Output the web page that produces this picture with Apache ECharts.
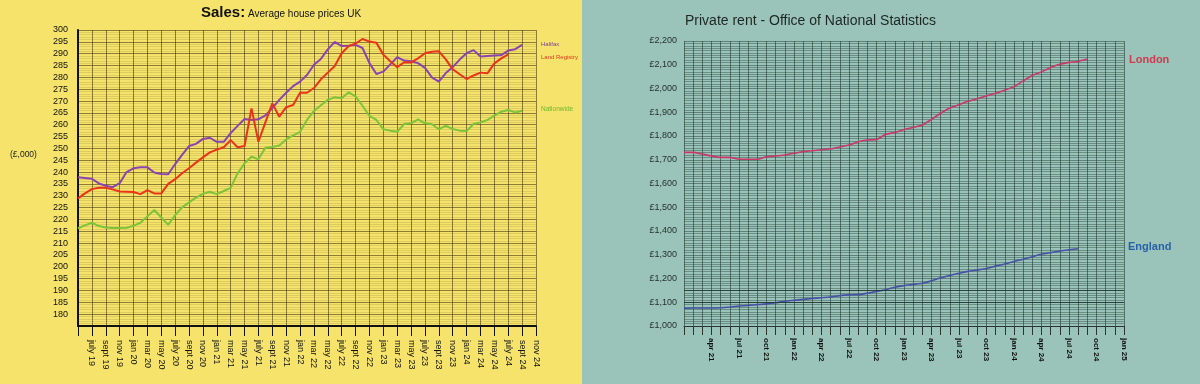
<!DOCTYPE html>
<html>
<head>
<meta charset="utf-8">
<script src="https://cdn.jsdelivr.net/npm/echarts@6/dist/echarts.min.js"></script>
<style>
html,body{margin:0;padding:0;background:#9AC4B9;}
#c{width:1200px;height:384px;}
</style>
</head>
<body>
<div id="c"></div>
<script>
// ---------- Sales (left panel) ----------
var salesMonths = ['may 19','jun 19','july 19','aug 19','sept 19','oct 19','nov 19','dec 19',
  'jan 20','feb 20','mar 20','apr 20','may 20','jun 20','july 20','aug 20','sept 20','oct 20','nov 20','dec 20',
  'jan 21','feb 21','mar 21','apr 21','may 21','jun 21','july 21','aug 21','sept 21','oct 21','nov 21','dec 21',
  'jan 22','feb 22','mar 22','apr 22','may 22','jun 22','july 22','aug 22','sept 22','oct 22','nov 22','dec 22',
  'jan 23','feb 23','mar 23','apr 23','may 23','jun 23','july 23','aug 23','sept 23','oct 23','nov 23','dec 23',
  'jan 24','feb 24','mar 24','apr 24','may 24','jun 24','july 24','aug 24','sept 24','oct 24','nov 24'];

var halifax = [237.8,237.5,237.2,235.2,234.2,233.6,235.3,240,241.6,242,
  242,239.8,239.2,239.1,243.4,247.3,251,251.9,254,254.5,
  252.8,252.8,256.5,259.5,262.4,262,262.3,263.9,267,270.5,
  273.5,276.3,278.2,281,285.3,287.8,291.8,295,293.2,293.4,
  293.7,292.4,286,281.4,282.4,285.5,288.5,287.1,286.8,286,
  284,280,278.2,281.8,284.3,287.5,290.2,291.5,288.8,289,
  289.2,289.4,291.3,291.9,293.7];

var landRegistry = [228.9,231,232.8,233.4,233.4,232.7,231.8,231.7,231.6,230.7,
  232.4,231,231,235,237,239.5,241.6,244,246.2,248.3,
  249.5,250.5,253.5,250.5,251,266.9,252.8,261,269,263.4,
  267.4,268.3,273.5,273.5,275.5,279.2,282,284.8,290.2,293.2,
  294.3,296.2,295.1,294.6,289.6,286.8,284.3,286.4,286.3,288,
  290.2,290.8,291,287.6,283.4,281.3,279.3,280.8,282,281.7,
  285.9,288,289.7];

var nationwide = [216.3,217.5,218.6,217.2,216.6,216.4,216.4,216.5,217.3,218.6,
  221.3,224,220.8,217.7,221.8,225.1,227.2,229.2,230.8,231.7,
  230.7,232,233.3,239.5,243.7,246.5,245.4,250.3,250.6,251.2,
  253.8,255.5,257,262,265.8,268.2,270.5,271.6,271.2,273.7,
  272,268,263.7,262,258.1,257.5,257,260.3,260.6,262.3,
  260.6,260.2,258.1,259.5,258.2,257.5,257.3,260.3,261,262,
  263.8,265.5,266.2,265.2,265.9];

// ---------- Private rent (right panel) ----------
var rentMonths = ['jan 21','feb 21','mar 21','apr 21','may 21','jun 21','jul 21','aug 21','sep 21','oct 21','nov 21','dec 21',
  'jan 22','feb 22','mar 22','apr 22','may 22','jun 22','jul 22','aug 22','sep 22','oct 22','nov 22','dec 22',
  'jan 23','feb 23','mar 23','apr 23','may 23','jun 23','jul 23','aug 23','sep 23','oct 23','nov 23','dec 23',
  'jan 24','feb 24','mar 24','apr 24','may 24','jun 24','jul 24','aug 24','sep 24','oct 24','nov 24','dec 24',
  'jan 25'];

var london = [1731,1731,1724,1716,1710,1710,1702,1702,1702,1713,
  1716,1720,1727,1735,1738,1742,1746,1754,1762,1776,
  1783,1785,1807,1815,1827,1836,1846,1870,1896,1918,
  1932,1946,1957,1969,1980,1993,2008,2032,2055,2070,
  2088,2102,2110,2114,2124];

var england = [1075,1076,1076,1076,1077,1080,1084,1087,1090,1093,
  1098,1104,1108,1112,1116,1119,1122,1128,1131,1132,
  1138,1145,1153,1163,1170,1175,1180,1190,1203,1213,
  1222,1230,1236,1242,1252,1261,1272,1281,1292,1302,
  1309,1316,1321,1325];

var rentRefLines = [1100, 1150];

var FONT = 'Arial, "Liberation Sans", sans-serif';

var chart = echarts.init(document.getElementById('c'), null, {renderer:'canvas'});

var option = {
  animation: false,
  backgroundColor: '#9AC4B9',
  graphic: [
    {type:'rect', z:-100, silent:true, shape:{x:0,y:0,width:582,height:384}, style:{fill:'#F5E36C'}},
    {type:'text', left:201, top:5, style:{text:'Sales:', font:'bold 15px ' + FONT, fill:'#111'}},
    {type:'text', left:248, top:9, style:{text:'Average house prices UK', font:'10px ' + FONT, fill:'#111'}},
    {type:'text', left:10, top:150, style:{text:'(£,000)', font:'8.5px ' + FONT, fill:'#222'}},
    {type:'text', left:541, top:41, style:{text:'Halifax', font:'6px ' + FONT, fill:'#7B3C9E'}},
    {type:'text', left:541, top:54, style:{text:'Land Registry', font:'6px ' + FONT, fill:'#E23A1E'}},
    {type:'text', left:541, top:106, style:{text:'Nationwide', font:'6.5px ' + FONT, fill:'#6DB82E'}},
    {type:'text', left:685, top:14, style:{text:'Private rent - Office of National Statistics', font:'14px ' + FONT, fill:'#1E2624'}},
    {type:'text', left:1129, top:54, style:{text:'London', font:'bold 11px ' + FONT, fill:'#D2384F'}},
    {type:'text', left:1128, top:241, style:{text:'England', font:'bold 11px ' + FONT, fill:'#2A60A8'}}
  ],
  grid: [
    {left:78, top:30, width:458, height:296},
    {left:684, top:41, width:440, height:285}
  ],
  xAxis: [
    {
      gridIndex:0, type:'category', data:salesMonths, boundaryGap:false,
      axisLine:{lineStyle:{color:'#111', width:2}},
      axisTick:{interval:1, length:10, lineStyle:{color:'#111', width:1}},
      axisLabel:{interval:function(i){return i%2===0 && i>0;}, rotate:-90, fontSize:9, color:'#111', margin:14, fontFamily:FONT},
      splitLine:{show:true, interval:1, lineStyle:{color:'rgba(70,55,15,0.6)', width:1}}
    },
    {
      gridIndex:1, type:'category', data:rentMonths, boundaryGap:false,
      axisLine:{lineStyle:{color:'#2a3431', width:1}},
      axisTick:{interval:0, length:9, lineStyle:{color:'#2a3431', width:1}},
      axisLabel:{interval:function(i){return i%3===0 && i>0;}, rotate:-90, fontSize:8, fontWeight:'bold', color:'#111', margin:12, fontFamily:FONT},
      splitLine:{show:true, interval:0, lineStyle:{color:'rgba(35,60,52,0.6)', width:1}}
    }
  ],
  yAxis: [
    {
      gridIndex:0, type:'value', min:175, max:300, interval:5,
      axisLine:{show:true, lineStyle:{color:'#111', width:2}},
      axisTick:{show:false},
      axisLabel:{showMinLabel:false, fontSize:9, color:'#111', margin:10, fontFamily:FONT},
      splitLine:{show:true, lineStyle:{color:'rgba(70,55,15,0.6)', width:1}},
      minorTick:{show:false, splitNumber:5},
      minorSplitLine:{show:true, lineStyle:{color:'rgba(110,95,30,0.18)', width:1}}
    },
    {
      gridIndex:1, type:'value', min:1000, max:2200, interval:100,
      axisLine:{show:false},
      axisTick:{show:false},
      axisLabel:{fontSize:9, color:'#27302d', margin:7, fontFamily:FONT,
        formatter:function(v){return '£' + String(v).replace(/\B(?=(\d{3})+(?!\d))/g, ',');}},
      splitLine:{show:true, lineStyle:{color:'rgba(35,60,52,0.5)', width:1}},
      minorTick:{show:false, splitNumber:10},
      minorSplitLine:{show:true, lineStyle:{color:'rgba(35,60,52,0.4)', width:1}}
    }
  ],
  series: [
    {name:'Halifax', type:'line', xAxisIndex:0, yAxisIndex:0, data:halifax, symbol:'none', lineStyle:{color:'#8A44B0', width:2}, z:3},
    {name:'Land Registry', type:'line', xAxisIndex:0, yAxisIndex:0, data:landRegistry, symbol:'none', lineStyle:{color:'#EA3318', width:2}, z:4},
    {name:'Nationwide', type:'line', xAxisIndex:0, yAxisIndex:0, data:nationwide, symbol:'none', lineStyle:{color:'#7DC43A', width:2}, z:3},
    {name:'London', type:'line', xAxisIndex:1, yAxisIndex:1, data:london, symbol:'none', smooth:0.2, lineStyle:{color:'#C93868', width:1.6}, z:4},
    {name:'England', type:'line', xAxisIndex:1, yAxisIndex:1, data:england, symbol:'none', smooth:0.2, lineStyle:{color:'#4552A6', width:1.6}, z:4,
      markLine:{silent:true, symbol:'none', label:{show:false}, lineStyle:{color:'rgba(25,45,40,0.75)', width:1, type:'solid'},
        data: rentRefLines.map(function(v){return {yAxis:v};})}}
  ]
};
chart.setOption(option);
</script>
</body>
</html>
